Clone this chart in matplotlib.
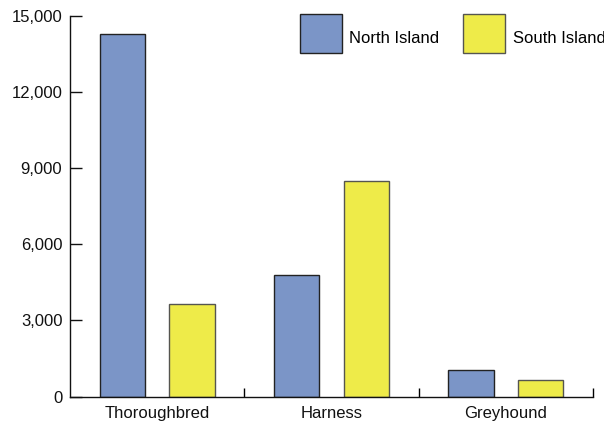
import matplotlib
matplotlib.use('Agg')
import matplotlib.pyplot as plt
import matplotlib.transforms as mtransforms
import numpy as np

categories = ['Thoroughbred', 'Harness', 'Greyhound']
north_island = [14300, 4800, 1050]
south_island = [3650, 8500, 650]
y_ticks = [0, 3000, 6000, 9000, 12000, 15000]

plt.rcParams['font.family'] = ['Liberation Sans', 'DejaVu Sans']
plt.rcParams['font.size'] = 12

fig = plt.figure(figsize=(6.04, 4.23), dpi=100)
ax = fig.add_axes([70/604, 1 - 396.5/423, 523/604, 380.5/423])

x = np.arange(len(categories))
width = 0.26
b1 = ax.bar(x - 0.2, north_island, width, color='#7b95c7', edgecolor='#222222', linewidth=1.0, label='North Island')
b2 = ax.bar(x + 0.2, south_island, width, color='#eeeb49', edgecolor='#555550', linewidth=1.0, label='South Island')

ax.set_xlim(-0.5, len(categories) - 0.5)
ax.set_ylim(0, 15000)
ax.set_yticks(y_ticks)
ax.set_yticklabels(['{:,}'.format(v) for v in y_ticks])
ax.tick_params(axis='y', direction='in', length=8.6, width=1.0, pad=5.5, colors='#111111')

# ticks between groups, labels centred under groups
ax.set_xticks(np.append(x[:-1] + 0.5, len(categories) - 0.5))
ax.set_xticklabels([])
ax.set_xticks(x, minor=True)
ax.set_xticklabels(categories, minor=True)
ax.tick_params(axis='x', which='major', direction='in', length=6.5, width=1.0)
ax.tick_params(axis='x', which='minor', length=0, pad=7, colors='#111111')

for side in ['top', 'right']:
  ax.spines[side].set_visible(False)
for side in ['left', 'bottom']:
  ax.spines[side].set_linewidth(1.0)
  ax.spines[side].set_color('#111111')

leg = fig.legend(handles=[b1, b2], loc='upper left', bbox_to_anchor=(300/604, 1 - 14/423),
                 ncol=2, frameon=False, borderpad=0, borderaxespad=0,
                 handlelength=2.5, handleheight=3.22, handletextpad=0.45, columnspacing=1.45)
# legend text sits a little low next to the squares in the original
shift = mtransforms.ScaledTranslation(0, -5/100, fig.dpi_scale_trans)
for t in leg.get_texts():
  t.set_transform(t.get_transform() + shift)

fig.savefig('out.png', dpi=100)
